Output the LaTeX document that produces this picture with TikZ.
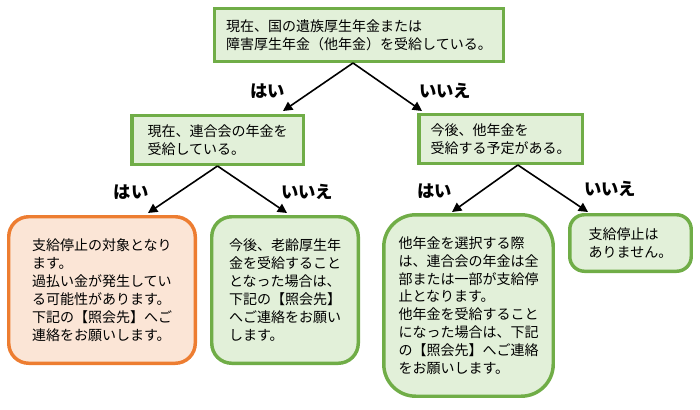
\documentclass[tikz,border=0pt]{standalone}
\usepackage{fontspec}
\setmainfont{Noto Sans CJK JP}
\usetikzlibrary{arrows.meta}

\definecolor{lineGreen}{HTML}{70AD47}
\definecolor{fillGreen}{HTML}{E2F0D9}
\definecolor{lineOrange}{HTML}{ED7D31}
\definecolor{fillOrange}{HTML}{FBE5D6}

\begin{document}
\begin{tikzpicture}[x=0.75pt, y=-0.75pt,
    greenbox/.style={draw=lineGreen, fill=fillGreen, line width=2.6pt, align=left,
        inner sep=1pt, font=\fontsize{10.5}{13.4}\selectfont},
    orangebox/.style={greenbox, draw=lineOrange, fill=fillOrange},
    answer/.style={font=\fontsize{13}{15}\selectfont\bfseries},
    arrow/.style={-{Triangle[length=7pt,width=7pt]}, line width=1.2pt}]

    \useasboundingbox (0,0) rectangle (700,410);

    % question boxes
    \node[greenbox, minimum width=216.4pt, minimum height=39.4pt] (question) at (359,35)
        {現在、国の遺族厚生年金または\\障害厚生年金（他年金）を受給している。};
    \node[greenbox, minimum width=128.6pt, minimum height=36.4pt] (rengo) at (217.5,140)
        {現在、連合会の年金を\\受給している。};
    \node[greenbox, minimum width=122.6pt, minimum height=36.4pt] (kongo) at (500.5,139)
        {今後、他年金を\\受給する予定がある。};

    % result boxes
    \node[orangebox, rounded corners=15pt, minimum width=139.9pt, minimum height=109.9pt] (teishi) at (102,290)
        {支給停止の対象となり\\ます。\\過払い金が発生してい\\る可能性があります。\\下記の【照会先】へご\\連絡をお願いします。};
    \node[greenbox, rounded corners=15pt, minimum width=109.9pt, minimum height=109.9pt] (rorei) at (285,290)
        {今後、老齢厚生年\\金を受給すること\\となった場合は、\\下記の【照会先】\\へご連絡をお願い\\します。};
    \node[greenbox, rounded corners=24pt, minimum width=127.1pt, minimum height=136.1pt] (sentaku) at (468.5,305.5)
        {他年金を選択する際\\は、連合会の年金は全\\部または一部が支給停\\止となります。\\他年金を受給すること\\になった場合は、下記\\の【照会先】へご連絡\\をお願いします。};
    \node[greenbox, rounded corners=11pt, minimum width=91.1pt, minimum height=42.4pt] (nashi) at (630.5,243)
        {支給停止は\\ありません。};

    % arrow tips
    \coordinate (tipA) at (283,111);
    \coordinate (tipB) at (422,111);
    \coordinate (tipC) at (148,213);
    \coordinate (tipD) at (287,213);
    \coordinate (tipE) at (452,212);
    \coordinate (tipF) at (588,212);

    \draw[arrow] ([xshift=-4.5pt]question.south) -- (tipA);
    \draw[arrow] ([xshift=-4.5pt]question.south) -- (tipB);
    \draw[arrow] (rengo.south) -- (tipC);
    \draw[arrow] (rengo.south) -- (tipD);
    \draw[arrow] ([xshift=13pt]kongo.south) -- (tipE);
    \draw[arrow] ([xshift=13pt]kongo.south) -- (tipF);

    % answers
    \node[answer] (yesA) at (267.5,91) {はい};
    \node[answer] (noA) at (445,91) {いいえ};
    \node[answer] (yesB) at (131,192) {はい};
    \node[answer] (noB) at (307,192) {いいえ};
    \node[answer] (yesC) at (434.5,191) {はい};
    \node[answer] (noC) at (610,189) {いいえ};

\end{tikzpicture}
\end{document}
